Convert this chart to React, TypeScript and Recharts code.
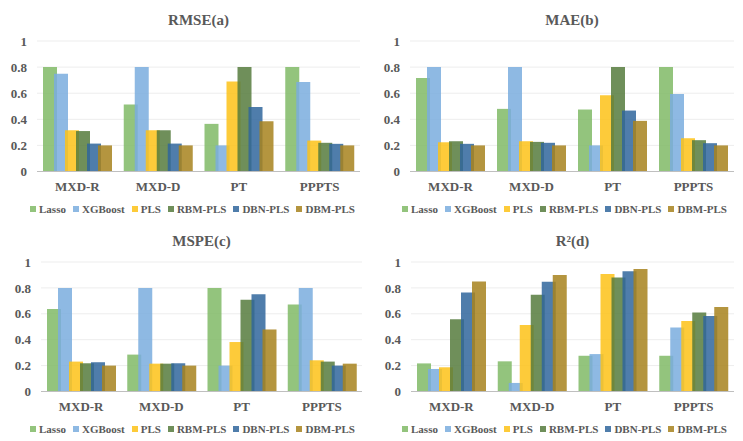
import React from "react";
import { BarChart, Bar, XAxis, YAxis, CartesianGrid, Legend } from "recharts";

const categories = ["MXD-R", "MXD-D", "PT", "PPPTS"];
const seriesNames = ["Lasso", "XGBoost", "PLS", "RBM-PLS", "DBN-PLS", "DBM-PLS"];
const yTicks = [0, 0.2, 0.4, 0.6, 0.8, 1];

// values per series (Lasso, XGBoost, PLS, RBM-PLS, DBN-PLS, DBM-PLS), each over the 4 categories
const rmseValues = [
  [0.8, 0.513, 0.365, 0.8],
  [0.75, 0.8, 0.2, 0.686],
  [0.316, 0.316, 0.69, 0.237],
  [0.31, 0.316, 0.8, 0.22],
  [0.214, 0.214, 0.495, 0.212],
  [0.2, 0.2, 0.385, 0.2],
];
const maeValues = [
  [0.717, 0.48, 0.475, 0.8],
  [0.8, 0.8, 0.2, 0.594],
  [0.224, 0.232, 0.584, 0.255],
  [0.232, 0.227, 0.8, 0.24],
  [0.212, 0.22, 0.467, 0.217],
  [0.2, 0.2, 0.388, 0.2],
];
const mspeValues = [
  [0.638, 0.285, 0.8, 0.672],
  [0.8, 0.8, 0.2, 0.8],
  [0.231, 0.215, 0.382, 0.241],
  [0.218, 0.215, 0.708, 0.231],
  [0.226, 0.218, 0.751, 0.2],
  [0.2, 0.2, 0.479, 0.215],
];
const r2Values = [
  [0.217, 0.233, 0.276, 0.276],
  [0.174, 0.066, 0.289, 0.494],
  [0.187, 0.514, 0.908, 0.545],
  [0.558, 0.747, 0.88, 0.611],
  [0.765, 0.847, 0.928, 0.583],
  [0.849, 0.9, 0.946, 0.652],
];

const baseColors = ["#80BA66", "#7AADDE", "#FDC217", "#567B3D", "#30669C", "#A7821D"];
const visualColors = ["#93C47D", "#8EB9E3", "#FDCB3A", "#6F8F5A", "#4F7DAB", "#B4953F"];

const FONT = "'Liberation Serif', 'Times New Roman', serif";
const TEXT = "#595959";

function buildData(values: number[][]) {
  return categories.map((c, i) => {
    const row: Record<string, string | number> = { category: c };
    seriesNames.forEach((s, j) => {
      row[s] = values[j][i];
    });
    return row;
  });
}

const renderLegend = () => (
  <div
    style={{
      display: "flex",
      justifyContent: "center",
      alignItems: "center",
      fontFamily: FONT,
      fontSize: 11,
      fontWeight: "bold",
      color: TEXT,
      height: 18,
      paddingLeft: 14,
      whiteSpace: "nowrap",
    }}
  >
    {seriesNames.map((n, i) => (
      <span
        key={n}
        style={{ display: "flex", alignItems: "center", marginRight: i < seriesNames.length - 1 ? 7 : 0 }}
      >
        <span
          style={{ width: 6, height: 6, background: visualColors[i], marginRight: 3, display: "inline-block" }}
        />
        {n}
      </span>
    ))}
  </div>
);

type PanelProps = {
  title: string;
  values: number[][];
  left: number;
  top: number;
  plotLeft: number;
  plotRight: number;
  plotTop: number;
  titleY: number;
};

function Panel({ title, values, left, top, plotLeft, plotRight, plotTop, titleY }: PanelProps) {
  const data = buildData(values);
  const W = 371;
  const H = 220;
  const tickStyle = { fill: TEXT, fontSize: 13, fontWeight: "bold", fontFamily: FONT };
  return (
    <div style={{ position: "absolute", left, top, width: W, height: H }}>
      <div
        style={{
          position: "absolute",
          left: plotLeft,
          width: plotRight - plotLeft,
          top: titleY - 10,
          height: 20,
          lineHeight: "20px",
          textAlign: "center",
          fontFamily: FONT,
          fontSize: 15,
          fontWeight: "bold",
          color: TEXT,
        }}
      >
        {title}
      </div>
      <BarChart
        width={W}
        height={H}
        data={data}
        margin={{ top: plotTop, right: W - plotRight, bottom: 2, left: 0 }}
        barCategoryGap={6}
        barGap={-3}
      >
        <CartesianGrid vertical={false} stroke="#EDEDED" />
        <XAxis
          dataKey="category"
          interval={0}
          height={W === 371 ? 28.5 : 28.5}
          axisLine={{ stroke: "#BFBFBF" }}
          tickLine={false}
          tickSize={0}
          tickMargin={10}
          tick={tickStyle}
        />
        <YAxis
          domain={[0, 1]}
          ticks={yTicks}
          width={plotLeft}
          axisLine={false}
          tickLine={false}
          tickSize={0}
          tickMargin={10}
          tick={tickStyle}
          tickFormatter={(v: number) => String(v)}
        />
        <Legend
          verticalAlign="bottom"
          height={18}
          content={renderLegend}
          wrapperStyle={{ left: 0, width: W }}
        />
        {seriesNames.map((s, i) => (
          <Bar key={s} dataKey={s} fill={baseColors[i]} fillOpacity={0.85} isAnimationActive={false} />
        ))}
      </BarChart>
    </div>
  );
}

export default function App() {
  return (
    <div style={{ position: "absolute", left: 0, top: 0, width: 743, height: 441, background: "#fff" }}>
      <Panel title="RMSE(a)" values={rmseValues} left={0} top={0} plotLeft={37} plotRight={360} plotTop={41} titleY={20} />
      <Panel title="MAE(b)" values={maeValues} left={372} top={0} plotLeft={38} plotRight={362} plotTop={41} titleY={20} />
      <Panel title="MSPE(c)" values={mspeValues} left={0} top={220} plotLeft={41} plotRight={362} plotTop={42} titleY={21} />
      <Panel title="R²(d)" values={r2Values} left={372} top={220} plotLeft={39} plotRight={362} plotTop={42} titleY={21} />
    </div>
  );
}
